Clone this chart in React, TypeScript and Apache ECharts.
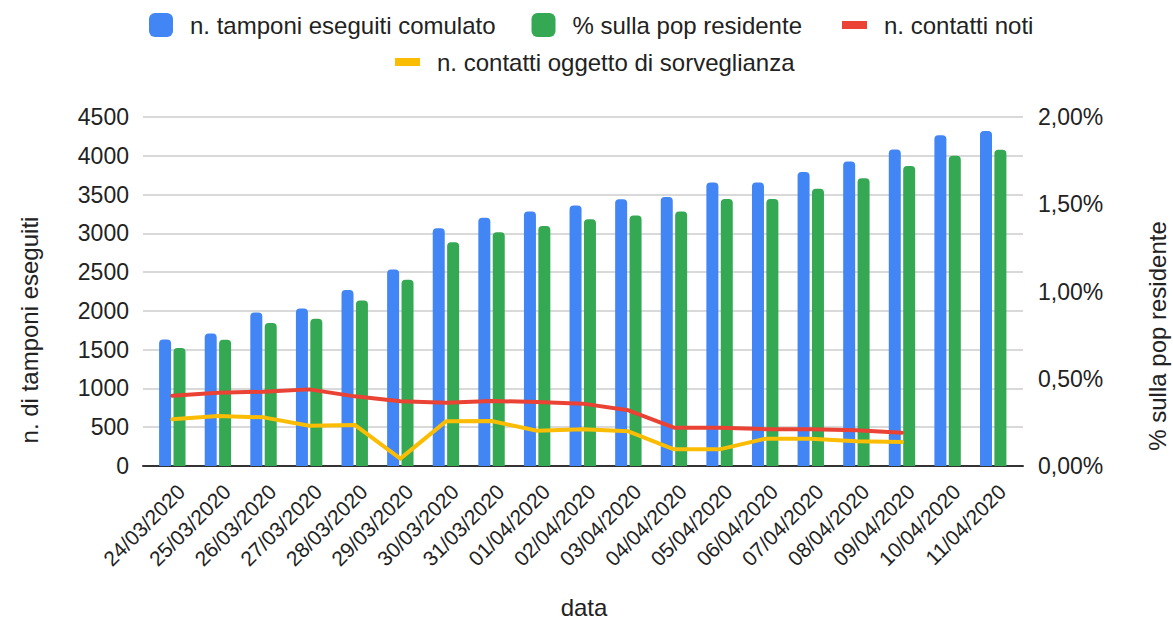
import React, { useEffect, useRef } from "react";
import * as echarts from "echarts";

const categories = [
  "24/03/2020", "25/03/2020", "26/03/2020", "27/03/2020", "28/03/2020",
  "29/03/2020", "30/03/2020", "31/03/2020", "01/04/2020", "02/04/2020",
  "03/04/2020", "04/04/2020", "05/04/2020", "06/04/2020", "07/04/2020",
  "08/04/2020", "09/04/2020", "10/04/2020", "11/04/2020",
];

const tamponi = [
  1630, 1710, 1980, 2030, 2270, 2535, 3065, 3200, 3280, 3360,
  3440, 3470, 3655, 3655, 3790, 3925, 4080, 4265, 4320,
];

const percPop = [
  0.676, 0.724, 0.819, 0.844, 0.949, 1.068, 1.282, 1.339, 1.375, 1.414,
  1.435, 1.459, 1.53, 1.53, 1.589, 1.649, 1.719, 1.778, 1.813,
];

const contattiNoti = [
  905, 945, 958, 988, 898, 834, 817, 838, 825, 804,
  718, 494, 494, 475, 473, 462, 430, null, null,
];

const contattiSorv = [
  602, 645, 627, 520, 529, 95, 576, 580, 455, 473,
  447, 215, 215, 352, 352, 318, 309, null, null,
];

const S_TAMP = "n. tamponi eseguiti comulato";
const S_PERC = "% sulla pop residente";
const S_NOTI = "n. contatti noti";
const S_SORV = "n. contatti oggetto di sorveglianza";

const FONT = '"Liberation Sans", Arial, sans-serif';
const TXT = "#222222";

export default function App() {
  const ref = useRef<HTMLDivElement>(null);

  useEffect(() => {
    if (!ref.current) return;
    const chart = echarts.init(ref.current, null, { renderer: "svg" });
    const legendText = {
      fontSize: 24,
      color: TXT,
      fontFamily: FONT,
      padding: [0, 0, 0, 12],
    };
    const option: any = {
      animation: false,
      backgroundColor: "#ffffff",
      textStyle: { fontFamily: FONT },
      legend: [
        {
          data: [S_TAMP, S_PERC],
          left: 144,
          top: 8,
          itemWidth: 24,
          itemHeight: 24,
          itemGap: 36,
          icon: "roundRect",
          selectedMode: false,
          textStyle: legendText,
        },
        {
          data: [S_NOTI],
          left: 837,
          top: 8,
          itemWidth: 25,
          itemHeight: 8,
          icon: "rect",
          selectedMode: false,
          textStyle: legendText,
        },
        {
          data: [S_SORV],
          left: 390,
          top: 45,
          itemWidth: 25,
          itemHeight: 8,
          icon: "rect",
          selectedMode: false,
          textStyle: legendText,
        },
      ],
      grid: [
        { left: 143, right: 150, top: 117, bottom: 154 },
        { left: 149.5, right: 157, top: 117, bottom: 154 },
        { left: 158.5, right: 148, top: 117, bottom: 154 },
      ],
      xAxis: [
        {
          type: "category",
          gridIndex: 0,
          data: categories,
          axisLine: { show: true, lineStyle: { color: "#333333", width: 2 } },
          axisTick: { show: false },
          axisLabel: { show: false },
          splitLine: { show: false },
        },
        {
          type: "category",
          gridIndex: 1,
          data: categories,
          show: false,
        },
        {
          type: "category",
          gridIndex: 2,
          data: categories,
          axisLine: { show: false },
          axisTick: { show: false },
          splitLine: { show: false },
          axisLabel: {
            interval: 0,
            rotate: 45,
            margin: 22,
            fontSize: 21,
            color: TXT,
            fontFamily: FONT,
          },
        },
      ],
      yAxis: [
        {
          type: "value",
          gridIndex: 0,
          position: "left",
          min: 0,
          max: 4500,
          interval: 500,
          axisLine: { show: false },
          axisTick: { show: false },
          axisLabel: {
            fontSize: 23,
            color: TXT,
            margin: 14,
            fontFamily: FONT,
            formatter: (v: number) => String(v),
          },
          splitLine: { lineStyle: { color: "#cccccc", width: 1.5 } },
        },
        {
          type: "value",
          gridIndex: 0,
          position: "right",
          min: 0,
          max: 2,
          interval: 0.5,
          axisLine: { show: false },
          axisTick: { show: false },
          splitLine: { show: false },
          axisLabel: {
            fontSize: 23,
            color: TXT,
            margin: 15,
            fontFamily: FONT,
            formatter: (v: number) => v.toFixed(2).replace(".", ",") + "%",
          },
        },
        { type: "value", gridIndex: 1, min: 0, max: 4500, show: false },
        { type: "value", gridIndex: 1, min: 0, max: 2, show: false },
        { type: "value", gridIndex: 2, min: 0, max: 1, show: false },
      ],
      graphic: [
        {
          type: "text",
          x: 29,
          y: 330,
          rotation: Math.PI / 2,
          style: {
            text: "n. di tamponi eseguiti",
            fontSize: 24,
            fill: TXT,
            fontFamily: FONT,
            align: "center",
            verticalAlign: "middle",
          },
        },
        {
          type: "text",
          x: 1157,
          y: 336,
          rotation: Math.PI / 2,
          style: {
            text: "% sulla pop residente",
            fontSize: 24,
            fill: TXT,
            fontFamily: FONT,
            align: "center",
            verticalAlign: "middle",
          },
        },
        {
          type: "text",
          x: 584,
          y: 607,
          style: {
            text: "data",
            fontSize: 24,
            fill: TXT,
            fontFamily: FONT,
            align: "center",
            verticalAlign: "middle",
          },
        },
      ],
      series: [
        {
          name: S_TAMP,
          type: "bar",
          xAxisIndex: 1,
          yAxisIndex: 2,
          data: tamponi,
          barWidth: 12,
          barGap: "20%",
          itemStyle: { color: "#4285F4", borderRadius: [4, 4, 0, 0] },
        },
        {
          name: S_PERC,
          type: "bar",
          xAxisIndex: 1,
          yAxisIndex: 3,
          data: percPop,
          barWidth: 12,
          barGap: "20%",
          itemStyle: { color: "#34A853", borderRadius: [4, 4, 0, 0] },
        },
        {
          name: S_NOTI,
          type: "line",
          xAxisIndex: 1,
          yAxisIndex: 2,
          data: contattiNoti,
          color: "#EA4335",
          showSymbol: false,
          symbol: "none",
          lineStyle: { color: "#EA4335", width: 4, join: "round", cap: "round" },
          z: 5,
        },
        {
          name: S_SORV,
          type: "line",
          xAxisIndex: 1,
          yAxisIndex: 2,
          data: contattiSorv,
          color: "#FBBC04",
          showSymbol: false,
          symbol: "none",
          lineStyle: { color: "#FBBC04", width: 4, join: "round", cap: "round" },
          z: 5,
        },
      ],
    };
    chart.setOption(option);
    return () => chart.dispose();
  }, []);

  return (
    <div
      ref={ref}
      style={{ position: "fixed", left: 0, top: 0, width: 1173, height: 620 }}
    />
  );
}
